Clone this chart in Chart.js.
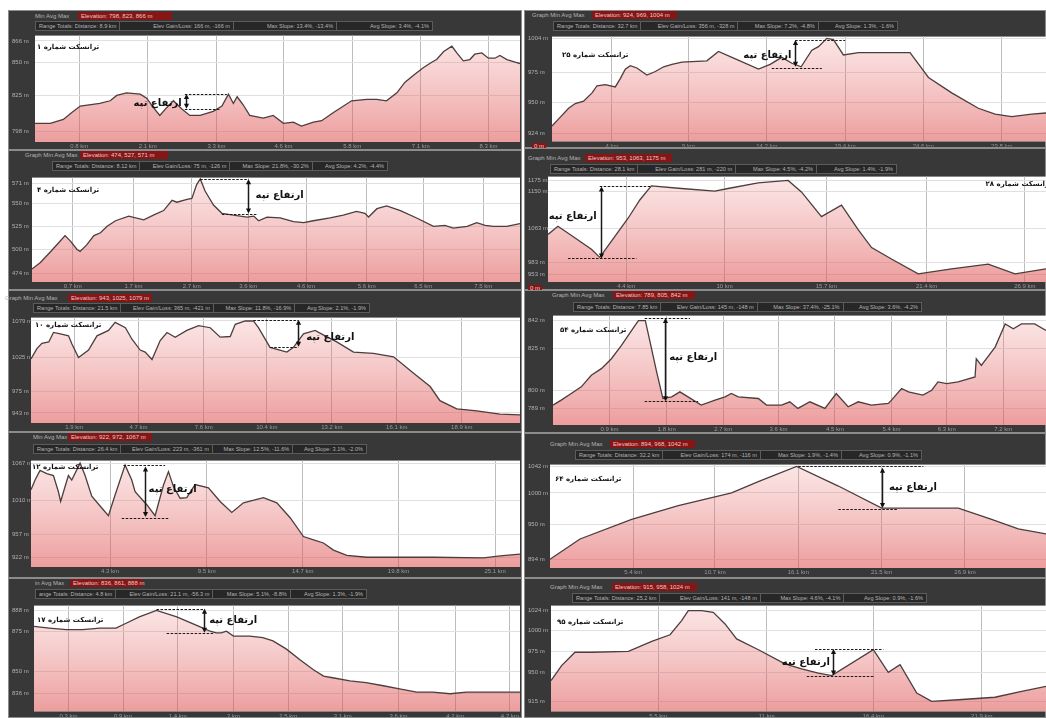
<!DOCTYPE html>
<html><head><meta charset="utf-8">
<script src="https://cdn.jsdelivr.net/npm/chart.js@4/dist/chart.umd.min.js"></script>
<style>
html,body{margin:0;padding:0;background:#fff;}
body{width:1046px;height:718px;position:relative;overflow:hidden;font-family:"Liberation Sans",Arial,sans-serif;}
.panel{position:absolute;background:#383838;box-sizing:border-box;border:1px solid #8c8c8c;}
.hdr{position:absolute;font-size:6px;color:#b4b4b4;white-space:nowrap;line-height:8px;height:8px;}
.red{background:#861616;color:#ecc8c8;padding:0 3px;box-sizing:border-box;}
.box{display:flex;justify-content:space-between;border:1px solid #5c5c5c;background:#272727;box-sizing:border-box;height:10px;line-height:8px;font-size:5.6px;overflow:hidden;}
.box span{padding:0 3px;border-right:1px solid #5c5c5c;}
.box span:last-child{border-right:none;}
.mark{position:absolute;font-size:6px;background:#8a1414;color:#f0d0d0;padding:0 2px;line-height:7px;}
canvas{position:absolute;}
</style></head><body>
<script>
// ---------- data (distance km / elevation m) ----------
const t1Dist=[0,0.28,0.52,0.67,0.83,1.19,1.38,1.50,1.68,1.93,2.05,2.17,2.29,2.42,2.54,2.69,2.84,3.03,3.27,3.43,3.55,3.64,3.71,3.82,3.94,4.19,4.37,4.56,4.74,4.89,5.11,5.26,5.47,5.81,6.09,6.27,6.45,6.64,6.79,6.97,7.13,7.28,7.37,7.50,7.65,7.74,7.86,7.98,8.07,8.20,8.32,8.44,8.53,8.66,8.81,8.90];
const t1Elev=[804,804,807,812,817,819,821,825,827,826,823,816,810,816,821,815,810,810,813,817,826,819,824,818,810,808,810,804,805,802,805,806,812,821,822,822,821,827,835,841,846,850,852,858,862,857,851,852,856,857,853,853,855,852,850,849];
const t1YTicks=[866,850,825,798];
const t1XTicks=[0.81,2.07,3.33,4.56,5.82,7.08,8.32];
const t1Hdr=['Elevation: 798, 823, 866 m','Range Totals:  Distance: 8.9 km','Elev Gain/Loss: 166 m, -166 m','Max Slope: 13.4%, -13.4%','Avg Slope: 3.4%, -4.1%'];

const t25Dist=[0,0.44,1.10,1.54,2.09,2.65,2.98,3.53,4.19,4.52,4.85,5.18,5.62,6.28,6.84,7.39,7.94,8.60,10.25,11.02,11.91,13.67,14.44,15.21,15.88,16.49,17.20,17.64,18.19,18.63,19.29,20.29,23.70,24.92,26.46,28.22,29.33,30.43,31.75,32.7];
const t25Elev=[930,936,945,949,951,958,964,965,963,970,978,981,979,973,976,980,982,984,985,993,988,978,982,988,983,980,994,997,1004,1003,990,992,992,971,958,945,940,938,940,941];
const t25YTicks=[1004,975,950,924];
const t25XTicks=[3.97,9.04,14.22,19.40,24.58,29.77];
const t25Hdr=['Elevation: 924, 969, 1004 m','Range Totals:  Distance: 32.7 km','Elev Gain/Loss: 356 m, -328 m','Max Slope: 7.2%, -4.8%','Avg Slope: 1.3%, -1.6%'];

const t4Dist=[0,0.14,0.30,0.44,0.55,0.64,0.75,0.80,0.91,1.03,1.14,1.25,1.39,1.61,1.86,2.02,2.19,2.33,2.41,2.58,2.66,2.74,2.80,2.88,3.02,3.16,3.35,3.58,3.69,3.77,3.91,4.13,4.35,4.52,4.68,4.96,5.18,5.40,5.54,5.60,5.74,5.90,6.13,6.40,6.68,6.87,7.01,7.24,7.40,7.54,7.68,7.90,8.12];
const t4Elev=[479,486,497,507,515,509,500,498,505,515,518,525,531,536,532,537,542,553,551,554,555,570,576,563,548,539,537,535,536,531,535,534,530,529,531,534,537,541,539,535,544,547,542,534,525,526,523,525,529,526,525,525,528];
const t4YTicks=[571,550,525,500,474];
const t4XTicks=[0.68,1.69,2.66,3.60,4.56,5.57,6.51,7.51];
const t4Hdr=['Elevation: 474, 527, 571 m','Range Totals:  Distance: 8.12 km','Elev Gain/Loss: 75 m, -126 m','Max Slope: 21.8%, -30.2%','Avg Slope: 4.2%, -4.4%'];

const t28Dist=[0,0.56,1.51,2.45,2.92,3.58,4.52,5.18,5.83,7.53,9.41,10.16,11.86,13.55,14.30,15.43,16.56,17.50,18.26,19.38,20.89,22.77,24.84,26.35,28.1];
const t28Elev=[1048,1067,1040,1013,994,1032,1086,1129,1162,1156,1150,1156,1169,1175,1148,1090,1117,1059,1017,990,955,967,978,955,967];
const t28YTicks=[1175,1150,1063,983,953];
const t28XTicks=[4.42,9.97,15.71,21.36,26.91];
const t28Hdr=['Elevation: 953, 1063, 1175 m','Range Totals:  Distance: 28.1 km','Elev Gain/Loss: 281 m, -220 m','Max Slope: 4.5%, -4.2%','Avg Slope: 1.4%, -1.9%'];

const t10Dist=[0,0.26,0.48,0.78,0.99,1.29,1.65,1.80,2.09,2.53,2.90,3.41,3.70,4.15,4.44,4.80,5.02,5.32,5.68,5.98,6.34,6.85,7.37,7.88,8.32,8.76,8.98,9.42,9.78,10.0,10.51,11.25,11.54,11.98,12.49,12.93,13.44,14.18,15.06,15.94,16.81,17.55,17.98,18.72,19.60,20.62,21.5];
const t10Elev=[1023,1038,1046,1048,1062,1060,1057,1045,1025,1036,1057,1065,1077,1069,1052,1036,1033,1022,1050,1062,1055,1065,1072,1069,1055,1056,1074,1079,1079,1069,1040,1033,1040,1060,1065,1057,1048,1033,1031,1026,1002,982,961,949,946,941,940];
const t10YTicks=[1079,1025,975,943];
const t10XTicks=[1.90,4.73,7.59,10.37,13.23,16.08,18.94];
const t10Hdr=['Elevation: 943, 1025, 1079 m','Range Totals:  Distance: 21.5 km','Elev Gain/Loss: 365 m, -421 m','Max Slope: 11.8%, -16.9%','Avg Slope: 2.1%, -1.9%'];

const t54Dist=[0,0.13,0.29,0.45,0.61,0.77,0.93,1.09,1.25,1.36,1.47,1.54,1.65,1.75,1.89,2.02,2.15,2.36,2.58,2.74,2.84,2.95,3.27,3.40,3.64,3.77,3.90,4.09,4.33,4.51,4.70,4.86,5.07,5.34,5.39,5.55,5.66,5.89,6.03,6.13,6.27,6.45,6.72,6.74,6.82,7.04,7.20,7.33,7.46,7.67,7.85];
const t54Elev=[791,794,798,802,809,813,819,827,836,842,842,830,811,795,796,799,796,791,794,796,798,796,795,791,791,793,789,793,789,798,790,793,791,792,794,801,799,797,800,805,804,805,808,819,815,826,840,837,840,840,836];
const t54YTicks=[842,825,800,789];
const t54XTicks=[0.90,1.81,2.71,3.59,4.49,5.39,6.27,7.17];
const t54Hdr=['Elevation: 789, 805, 842 m','Range Totals:  Distance: 7.85 km','Elev Gain/Loss: 145 m, -148 m','Max Slope: 37.4%, -25.1%','Avg Slope: 3.6%, -4.2%'];

const t12Dist=[0,0.22,0.49,0.85,1.21,1.48,1.60,1.84,2.02,2.20,2.65,2.92,3.28,3.73,4.18,4.54,5.08,5.44,5.62,6.25,6.70,7.15,7.42,7.69,8.05,8.41,8.86,9.58,10.21,10.84,11.47,12.55,13.27,13.99,14.71,15.34,15.79,16.33,17.05,18.13,19.93,21.73,24.43,25.33,26.4];
const t12Elev=[1026,1041,1056,1051,1048,1023,1008,1031,1048,1041,1067,1048,1016,1001,986,1018,1064,1041,1023,1003,986,1033,1054,1031,1013,1014,1034,1029,1008,991,1006,1014,1006,983,954,948,944,933,925,922,922,922,921,924,927];
const t12YTicks=[1067,1010,957,922];
const t12XTicks=[4.27,9.49,14.67,19.84,25.06];
const t12Hdr=['Elevation: 922, 972, 1067 m','Range Totals:  Distance: 26.4 km','Elev Gain/Loss: 223 m, -361 m','Max Slope: 12.5%, -11.6%','Avg Slope: 3.1%, -2.0%'];

const t64Dist=[0,1.95,5.30,8.33,11.79,13.52,16.01,18.72,21.53,26.51,28.67,30.40,32.2];
const t64Elev=[895,927,958,980,1000,1018,1042,1011,976,976,958,943,935];
const t64YTicks=[1042,1000,950,894];
const t64XTicks=[5.41,10.71,16.12,21.53,26.94];
const t64Hdr=['Elevation: 894, 968, 1042 m','Range Totals:  Distance: 32.2 km','Elev Gain/Loss: 174 m, -116 m','Max Slope: 1.9%, -1.4%','Avg Slope: 0.9%, -1.1%'];

const t17Dist=[0,0.15,0.32,0.48,0.65,0.81,0.91,1.04,1.21,1.41,1.67,1.74,1.80,1.85,1.90,1.97,2.13,2.26,2.36,2.49,2.63,2.76,2.86,2.95,3.12,3.28,3.45,3.61,3.78,3.94,4.11,4.27,4.44,4.60,4.80];
const t17Elev=[878,877,876,876,877,877,880,884,888,884,877,875,874,874,875,872,872,871,869,864,857,851,847,846,844,843,841,839,837,837,836,837,837,837,837];
const t17YTicks=[888,875,850,836];
const t17XTicks=[0.34,0.88,1.42,1.97,2.51,3.05,3.60,4.16,4.70];
const t17Hdr=['Elevation: 836, 861, 888 m','ange Totals:  Distance: 4.8 km','Elev Gain/Loss: 21.1 m, -56.3 m','Max Slope: 5.1%, -8.8%','Avg Slope: 1.3%, -1.9%'];

const t95Dist=[0,0.54,1.22,2.07,3.94,5.13,6.06,6.65,6.99,7.67,8.26,8.86,9.45,10.56,11.91,12.76,13.61,14.29,16.41,17.17,17.77,18.62,19.38,20.74,22.60,23.96,25.2];
const t95Elev=[940,958,974,974,975,987,995,1012,1024,1024,1022,1008,990,977,960,954,949,946,977,950,959,925,915,917,920,927,933];
const t95YTicks=[1024,1000,975,950,915];
const t95XTicks=[5.46,10.98,16.41,21.93];
const t95Hdr=['Elevation: 915, 958, 1024 m','Range Totals:  Distance: 25.2 km','Elev Gain/Loss: 141 m, -148 m','Max Slope: 4.6%, -4.1%','Avg Slope: 0.9%, -1.6%'];

const hillLabel='ارتفاع تپه';
const titles={t1:'ترانسکت شماره ۱',t25:'ترانسکت شماره ۲۵',t4:'ترانسکت شماره ۴',t28:'ترانسکت شماره ۲۸',t10:'ترانسکت شماره ۱۰',t54:'ترانسکت شماره ۵۴',t12:'ترانسکت شماره ۱۲',t64:'ترانسکت شماره ۶۴',t17:'ترانسکت شماره ۱۷',t95:'ترانسکت شماره ۹۵'};

// ---------- panel layout ----------
const P=[
 {k:'t1',frame:[8,10,522,150],plot:[35,33,520,142],dist:t1Dist,elev:t1Elev,xMax:8.9,yR:[790,870],yT:t1YTicks,xT:t1XTicks,hd:t1Hdr,
  tt:{dx:2,dy:12,al:'left'},note:{lines:[[2.75,3.52,826],[2.75,3.40,815]],arrow:[2.78,826,815],text:[2.69,819,'right']},
  h1:{x:35,y:12,pre:'Min Avg Max',rx:78,rw:94},h2:{x:35,x2:433,y:21}},
 {k:'t25',frame:[524,10,1046,148],plot:[552,34,1046,143],dist:t25Dist,elev:t25Elev,xMax:32.7,yR:[917,1005.5],yT:t25YTicks,xT:t25XTicks,hd:t25Hdr,
  tt:{dx:10,dy:19,al:'left'},note:{lines:[[16.10,19.40,1002.7],[14.55,17.86,979]],arrow:[16.10,1002.7,980],text:[15.85,990,'right']},
  h1:{x:532,y:11,pre:'Graph Min Avg Max',rx:592,rw:85},h2:{x:553,x2:898,y:21},mark:[532,143,'0 m']},
 {k:'t4',frame:[8,150,522,290],plot:[32,175,520,282],dist:t4Dist,elev:t4Elev,xMax:8.12,yR:[465,577.5],yT:t4YTicks,xT:t4XTicks,hd:t4Hdr,
  tt:{dx:5,dy:13,al:'left'},note:{lines:[[2.80,3.60,575.7],[3.16,3.74,538.7]],arrow:[3.60,575.7,538.7],text:[3.72,558,'left']},
  h1:{x:25,y:151,pre:'Graph Min Avg Max',rx:80,rw:88},h2:{x:52,x2:388,y:161}},
 {k:'t28',frame:[524,148,1046,290],plot:[548,174,1046,282],dist:t28Dist,elev:t28Elev,xMax:28.1,yR:[936,1184],yT:t28YTicks,xT:t28XTicks,hd:t28Hdr,
  tt:{dx:6,dy:8,al:'right'},note:{lines:[[2.92,5.83,1161],[1.13,4.99,991.5]],arrow:[2.98,1161,991.5],text:[2.75,1090,'right']},
  h1:{x:528,y:154,pre:'Graph Min Avg Max',rx:585,rw:87},h2:{x:550,x2:897,y:164},mark:[528,285,'0 m']},
 {k:'t10',frame:[8,290,522,432],plot:[31,315,520,423],dist:t10Dist,elev:t10Elev,xMax:21.5,yR:[928,1084],yT:t10YTicks,xT:t10XTicks,hd:t10Hdr,
  tt:{dx:4,dy:8,al:'left'},note:{lines:[[9.78,11.76,1081],[10.52,11.76,1041]],arrow:[11.76,1081,1041],text:[12.1,1055,'left']},
  h1:{x:5,y:294,pre:'Graph Min Avg Max',rx:68,rw:84},h2:{x:33,x2:370,y:303}},
 {k:'t54',frame:[524,290,1046,433],plot:[553,313,1046,425],dist:t54Dist,elev:t54Elev,xMax:7.85,yR:[779,845],yT:t54YTicks,xT:t54XTicks,hd:t54Hdr,
  tt:{dx:7,dy:15,al:'left'},note:{lines:[[1.46,2.18,843.5],[1.46,2.31,793.3]],arrow:[1.78,843.5,793.3],text:[1.85,820,'left']},
  h1:{x:552,y:291,pre:'Graph Min Avg Max',rx:613,rw:82},h2:{x:573,x2:922,y:302}},
 {k:'t12',frame:[8,432,522,578],plot:[31,458,520,567],dist:t12Dist,elev:t12Elev,xMax:26.4,yR:[907,1071],yT:t12YTicks,xT:t12XTicks,hd:t12Hdr,
  tt:{dx:1,dy:7,al:'left'},note:{lines:[[4.99,7.24,1064.5],[4.90,7.42,982]],arrow:[6.16,1062,984],text:[6.35,1026,'left']},
  h1:{x:33,y:433,pre:'Min Avg Max',rx:68,rw:84},h2:{x:33,x2:367,y:444}},
 {k:'t64',frame:[524,433,1046,578],plot:[550,462,1046,568],dist:t64Dist,elev:t64Elev,xMax:32.2,yR:[881,1045],yT:t64YTicks,xT:t64XTicks,hd:t64Hdr,
  tt:{dx:5,dy:15,al:'left'},note:{lines:[[16.12,24.24,1042],[18.72,22.61,974.6]],arrow:[21.53,1040,976],text:[22.0,1009,'left']},
  h1:{x:550,y:440,pre:'Graph Min Avg Max',rx:610,rw:85},h2:{x:575,x2:922,y:450}},
 {k:'t17',frame:[8,578,522,718],plot:[34,603,520,712],dist:t17Dist,elev:t17Elev,xMax:4.8,yR:[825,891],yT:t17YTicks,xT:t17XTicks,hd:t17Hdr,
  tt:{dx:3,dy:15,al:'left'},note:{lines:[[1.21,1.69,889],[1.31,1.77,874]],arrow:[1.68,889,874],text:[1.73,882,'left']},
  h1:{x:35,y:579,pre:'in Avg Max',rx:70,rw:73},h2:{x:35,x2:367,y:589}},
 {k:'t95',frame:[524,578,1046,718],plot:[551,603,1046,712],dist:t95Dist,elev:t95Elev,xMax:25.2,yR:[903,1030],yT:t95YTicks,xT:t95XTicks,hd:t95Hdr,
  tt:{dx:6,dy:17,al:'left'},note:{lines:[[13.44,16.92,978],[13.02,16.49,946]],arrow:[14.37,978,946],text:[14.2,962,'right']},
  h1:{x:550,y:583,pre:'Graph Min Avg Max',rx:612,rw:85},h2:{x:572,x2:927,y:593}}
];

// ---------- plugins ----------
const bgPlugin={id:'plotBg',beforeDraw(chart){const a=chart.chartArea;if(!a)return;const c=chart.ctx;c.save();c.fillStyle='#ffffff';c.fillRect(a.left,a.top,a.right-a.left,a.bottom-a.top);c.restore();}};
function head(c,x,y,dir){c.beginPath();c.moveTo(x,y);c.lineTo(x-2.6,y-dir*5);c.lineTo(x+2.6,y-dir*5);c.closePath();c.fill();}
const hillPlugin={id:'hillNotes',afterDatasetsDraw(chart){
  const p=chart.canvas._panel;if(!p)return;
  const c=chart.ctx,sx=chart.scales.x,sy=chart.scales.y,a=chart.chartArea,n=p.note;
  c.save();
  c.strokeStyle='#1a1a1a';c.fillStyle='#111';c.lineWidth=1;c.setLineDash([2.5,1.5]);
  n.lines.forEach(l=>{const py=Math.round(sy.getPixelForValue(l[2]))+0.5;c.beginPath();c.moveTo(sx.getPixelForValue(l[0]),py);c.lineTo(sx.getPixelForValue(l[1]),py);c.stroke();});
  c.setLineDash([]);
  const ax=Math.round(sx.getPixelForValue(n.arrow[0]))+0.5,y1=sy.getPixelForValue(n.arrow[1]),y2=sy.getPixelForValue(n.arrow[2]);
  c.lineWidth=1.5;c.beginPath();c.moveTo(ax,y1+3);c.lineTo(ax,y2-3);c.stroke();
  head(c,ax,y1,-1);head(c,ax,y2,1);
  c.direction='rtl';c.textBaseline='middle';
  c.font='bold 10px "DejaVu Sans"';c.textAlign=n.text[2];
  c.fillText(hillLabel,sx.getPixelForValue(n.text[0]),sy.getPixelForValue(n.text[1]));
  c.font='bold 7px "DejaVu Sans"';c.textAlign=p.tt.al;
  const tx=p.tt.al==='right'?a.right+p.tt.dx:a.left+p.tt.dx;
  c.fillText(titles[p.k],tx,a.top+p.tt.dy);
  c.restore();
}};
Chart.register(bgPlugin,hillPlugin);

function el(cls,x,y,txt){const d=document.createElement('div');d.className=cls;d.style.left=x+'px';d.style.top=y+'px';if(txt!==undefined)d.textContent=txt;document.body.appendChild(d);return d;}
const fmtKm=v=>(Math.round(v*10)/10)+' km';
const PAD=4;

P.forEach(p=>{
  const f=p.frame;
  const pn=el('panel',f[0],f[1]);pn.style.width=(f[2]-f[0])+'px';pn.style.height=(f[3]-f[1])+'px';
  el('hdr',p.h1.x,p.h1.y,p.h1.pre);
  const r=el('hdr red',p.h1.rx,p.h1.y,p.hd[0]);r.style.width=p.h1.rw+'px';
  const b=el('hdr box',p.h2.x,p.h2.y);b.style.width=(p.h2.x2-p.h2.x)+'px';
  p.hd.slice(1).forEach(t=>{const s=document.createElement('span');s.textContent=t;b.appendChild(s);});
  if(p.mark) el('mark',p.mark[0],p.mark[1],p.mark[2]);

  const cx=f[0]+1, cy=p.plot[1]-PAD, cw=p.plot[2]-cx, ch=f[3]-cy;
  const yw=p.plot[0]-cx-3, xh=f[3]-p.plot[3];
  const cv=document.createElement('canvas');
  cv.width=cw;cv.height=ch;cv.style.left=cx+'px';cv.style.top=cy+'px';cv.style.width=cw+'px';cv.style.height=ch+'px';
  cv._panel=p;document.body.appendChild(cv);
  new Chart(cv,{type:'line',
    data:{datasets:[{data:p.dist.map((d,i)=>({x:d,y:p.elev[i]})),borderColor:'#4d3d3d',borderWidth:1.3,pointRadius:0,tension:0,fill:'start',
      backgroundColor:(ctx)=>{const ch2=ctx.chart,a=ch2.chartArea;if(!a)return 'rgba(230,120,120,0.3)';const g=ch2.ctx.createLinearGradient(0,a.top,0,a.bottom);g.addColorStop(0,'rgba(236,130,130,0.2)');g.addColorStop(1,'rgba(222,80,80,0.56)');return g;}}]},
    options:{responsive:false,animation:false,devicePixelRatio:1,
      layout:{padding:{top:PAD,left:3,right:0,bottom:0},autoPadding:false},
      plugins:{legend:{display:false},tooltip:{enabled:false}},
      scales:{
        x:{type:'linear',min:0,max:p.xMax,
          afterBuildTicks:s=>{s.ticks=p.xT.map(v=>({value:v}));},
          afterFit:s=>{s.height=xh;},
          ticks:{color:'#9a9a9a',font:{size:6,family:'Liberation Sans'},padding:1,maxRotation:0,autoSkip:false,callback:v=>fmtKm(v)},
          grid:{color:'#bdbdbd',drawTicks:false},border:{display:false}},
        y:{min:p.yR[0],max:p.yR[1],
          afterBuildTicks:s=>{s.ticks=p.yT.map(v=>({value:v}));},
          afterFit:s=>{s.width=yw;},
          ticks:{color:'#b0b0b0',font:{size:6,family:'Liberation Sans'},crossAlign:'far',autoSkip:false,callback:v=>v+' m'},
          grid:{color:'#e0e0e0',drawTicks:false},border:{display:false}}
      }}});
});
</script></body></html>
